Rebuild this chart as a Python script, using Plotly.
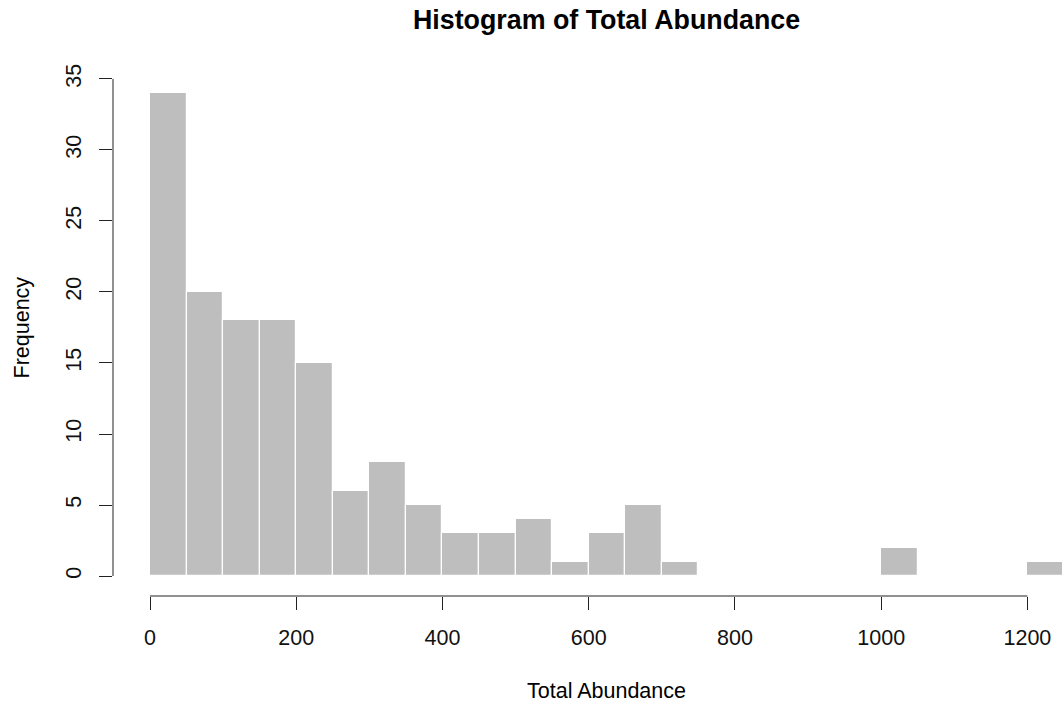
import plotly.graph_objects as go

# Histogram bins (width 50) and their counts
bin_left = [0, 50, 100, 150, 200, 250, 300, 350, 400, 450, 500, 550, 600,
            650, 700, 750, 800, 850, 900, 950, 1000, 1050, 1100, 1150, 1200]
counts = [34, 20, 18, 18, 15, 6, 8, 5, 3, 3, 4, 1, 3,
          5, 1, 0, 0, 0, 0, 0, 2, 0, 0, 0, 1]
bin_width = 50

x_ticks = [0, 200, 400, 600, 800, 1000, 1200]
y_ticks = [0, 5, 10, 15, 20, 25, 30, 35]

font = "Liberation Sans, Arial, Helvetica, sans-serif"
axis_color = "#222222"
label_size = 21.5

fig = go.Figure()
fig.add_trace(go.Bar(
    x=[b + bin_width / 2 for b in bin_left],
    y=counts,
    width=bin_width,
    marker=dict(color="#bebebe", line=dict(color="white", width=1.2)),
    hoverinfo="x+y",
))

# Detached axis lines spanning the tick range only
fig.add_shape(type="line", xref="x", yref="paper",
              x0=x_ticks[0], x1=x_ticks[-1], y0=0, y1=0,
              line=dict(color=axis_color, width=1))
fig.add_shape(type="line", xref="paper", yref="y",
              x0=0, x1=0, y0=y_ticks[0], y1=y_ticks[-1],
              line=dict(color=axis_color, width=1))

fig.add_annotation(text="<b>Histogram of Total Abundance</b>",
                   xref="x", yref="paper", x=625, y=1.095,
                   showarrow=False, xanchor="center", yanchor="middle",
                   font=dict(family=font, size=26.8, color="black"))
fig.add_annotation(text="Total Abundance",
                   xref="x", yref="paper", x=625, y=-0.1806,
                   showarrow=False, xanchor="center", yanchor="middle",
                   font=dict(family=font, size=label_size, color="black"))
fig.add_annotation(text="Frequency", textangle=-90,
                   xref="paper", yref="y", x=-0.0959, y=17.5,
                   showarrow=False, xanchor="center", yanchor="middle",
                   font=dict(family=font, size=label_size, color="black"))

fig.update_layout(
    width=1062, height=703,
    margin=dict(l=113, r=0, t=70, b=107),
    paper_bgcolor="white", plot_bgcolor="white",
    showlegend=False, bargap=0,
    font=dict(family=font, size=label_size, color="#111111"),
    xaxis=dict(range=[-50.6, 1247.3], tickvals=x_ticks,
               ticks="outside", ticklen=13, tickcolor=axis_color,
               showgrid=False, zeroline=False, showline=False,
               ticklabelstandoff=9),
    yaxis=dict(range=[-1.407, 35.63], tickvals=y_ticks,
               ticks="outside", ticklen=13, tickcolor=axis_color,
               tickangle=-90, showgrid=False, zeroline=False,
               showline=False, ticklabelstandoff=9),
)

fig.write_html("out.html")
